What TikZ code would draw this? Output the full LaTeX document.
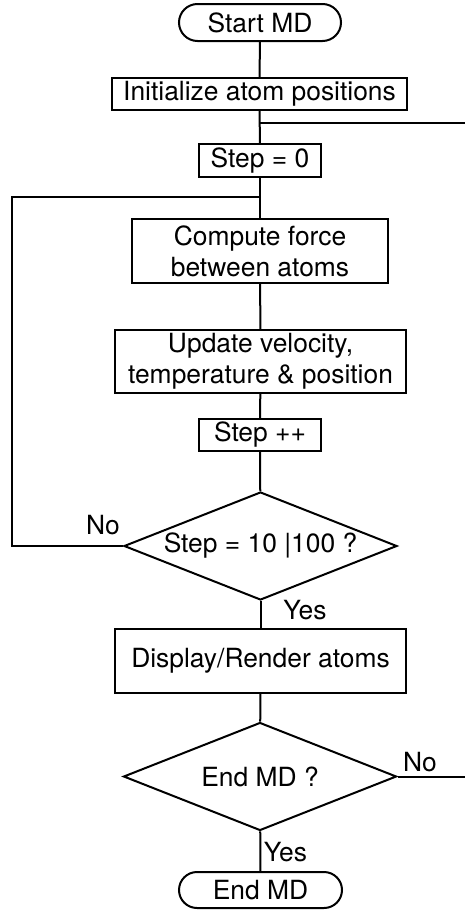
\documentclass[tikz,border=0pt]{standalone}
\usepackage{fontspec}
\setmainfont{TeX Gyre Heros}
\usetikzlibrary{shapes.geometric,shapes.misc}
\begin{document}
\begin{tikzpicture}[x=1pt,y=-1pt,
  line width=2pt,
  every node/.style={font=\fontsize{26.4}{31}\selectfont, inner sep=0pt},
  term/.style={draw, rounded rectangle, minimum height=#1},
  procbox/.style={draw, rectangle, align=center},
  decision/.style={draw, diamond, aspect=2.5, minimum width=273pt, minimum height=108pt},
  lbl/.style={}]
\useasboundingbox (0,0) rectangle (465,910);

% process chain
\node[term=37pt, minimum width=162pt] (start) at (260,22.5) {Start MD};
\node[procbox, minimum width=295pt, minimum height=32pt] (init) at (259.5,94) {Initialize atom positions};
\node[procbox, minimum width=122pt, minimum height=33pt] (step0) at (260,160.5) {Step = 0};
\node[procbox, minimum width=256pt, minimum height=64pt] (compute) at (260,251) {Compute force\\between atoms};
\node[procbox, minimum width=291pt, minimum height=63pt] (update) at (260.5,361.5) {Update velocity,\\temperature \& position};
\node[procbox, minimum width=122pt, minimum height=32pt] (stepinc) at (260,435) {Step ++};
\node[decision] (dec1) at (260.5,546) {Step = 10 |100 ?};
\node[procbox, minimum width=291pt, minimum height=64pt] (display) at (260.5,661) {Display/Render atoms};
\node[decision] (dec2) at (260,776.5) {End MD ?};
\node[term=36pt, minimum width=163pt] (end) at (260.5,890) {End MD};

% junctions and free ends
\coordinate (branch) at (260,123);
\coordinate (branchend) at (465,123);
\coordinate (loopin) at (260,197);
\coordinate (loopcorner) at (12,197);
\coordinate (loopbottom) at (12,546);
\coordinate (exitend) at (465,776.5);

% connectors
\draw (start) -- (init);
\draw (init) -- (step0);
\draw (branch) -- (branchend);
\draw (step0) -- (compute);
\draw (compute) -- (update);
\draw (update) -- (stepinc);
\draw (stepinc) -- (dec1);
\draw (dec1.west) -- (loopbottom) -- (loopcorner) -- (loopin);
\draw (dec1) -- (display);
\draw (display) -- (dec2);
\draw (dec2.east) -- (exitend);
\draw (dec2) -- (end);

% branch labels
\node[lbl] (no1) at (103,525) {No};
\node[lbl] (yes1) at (305,610) {Yes};
\node[lbl] (no2) at (420,762) {No};
\node[lbl] (yes2) at (285.5,852) {Yes};
\end{tikzpicture}
\end{document}
